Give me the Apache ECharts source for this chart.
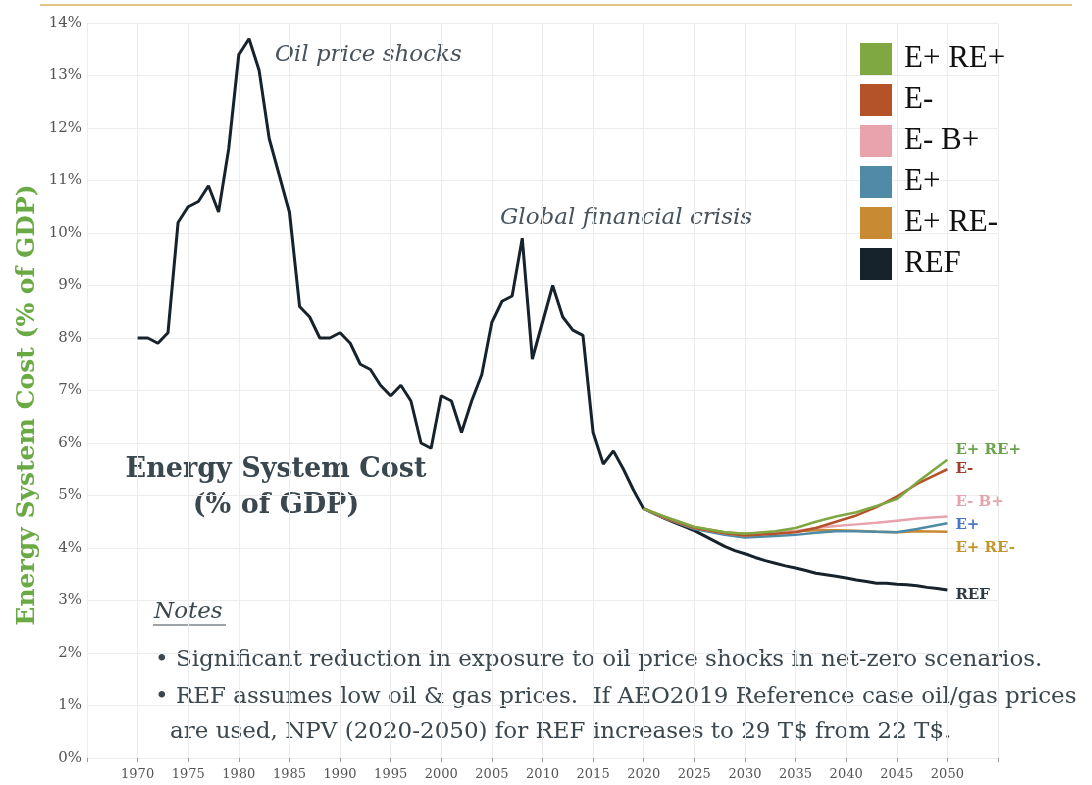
<!DOCTYPE html>
<html>
<head>
<meta charset="utf-8">
<script src="https://cdn.jsdelivr.net/npm/echarts@6/dist/echarts.min.js"></script>
<style>
html, body { margin: 0; padding: 0; background: #fff; }
#chart { width: 1092px; height: 785px; }
</style>
</head>
<body>
<div id="chart"></div>
<script>
// historical REF, one value per year from 1970 to 2019
var histStart = 1970;
var refHistory = [8.0, 8.0, 7.9, 8.1, 10.2, 10.5, 10.6, 10.9, 10.4, 11.6,
	13.4, 13.7, 13.1, 11.8, 11.1, 10.4, 8.6, 8.4, 8.0, 8.0,
	8.1, 7.9, 7.5, 7.4, 7.1, 6.9, 7.1, 6.8, 6.0, 5.9,
	6.9, 6.8, 6.2, 6.8, 7.3, 8.3, 8.7, 8.8, 9.9, 7.6,
	8.3, 9.0, 8.4, 8.15, 8.05, 6.2, 5.6, 5.85, 5.5, 5.1];
// REF projection, one value per year from 2020 to 2050
var projStart = 2020;
var refProjection = [4.75, 4.66, 4.57, 4.49, 4.41, 4.33, 4.23, 4.13, 4.03, 3.95,
	3.89, 3.82, 3.76, 3.71, 3.66, 3.62, 3.57, 3.52, 3.49, 3.46,
	3.43, 3.39, 3.36, 3.33, 3.33, 3.31, 3.30, 3.28, 3.25, 3.23, 3.20];
// scenario values read at these years
var scenYears = [2020, 2022, 2025, 2028, 2030, 2033, 2035, 2037, 2039, 2041, 2043, 2045, 2047, 2050];
var ePlusREPlus  = [4.75, 4.60, 4.40, 4.30, 4.27, 4.32, 4.38, 4.50, 4.60, 4.68, 4.80, 4.93, 5.25, 5.68];
var eMinus       = [4.75, 4.58, 4.38, 4.28, 4.24, 4.27, 4.30, 4.38, 4.50, 4.62, 4.78, 4.98, 5.22, 5.50];
var eMinusBPlus  = [4.75, 4.58, 4.38, 4.28, 4.24, 4.28, 4.32, 4.38, 4.42, 4.45, 4.48, 4.52, 4.56, 4.60];
var ePlus        = [4.75, 4.57, 4.36, 4.25, 4.20, 4.23, 4.25, 4.29, 4.32, 4.32, 4.31, 4.30, 4.36, 4.47];
var ePlusREMinus = [4.75, 4.60, 4.40, 4.30, 4.27, 4.30, 4.32, 4.34, 4.34, 4.33, 4.31, 4.30, 4.32, 4.31];

var seriesNames = ['E+ RE+', 'E-', 'E- B+', 'E+', 'E+ RE-', 'REF'];
var yTicks = [0, 1, 2, 3, 4, 5, 6, 7, 8, 9, 10, 11, 12, 13, 14];

var serif = 'DejaVu Serif';

function pairs(startYear, vals) {
	var out = [];
	for (var i = 0; i < vals.length; i++) out.push([startYear + i, vals[i]]);
	return out;
}
function zipYears(years, vals) {
	var out = [];
	for (var i = 0; i < vals.length; i++) out.push([years[i], vals[i]]);
	return out;
}

var refData = pairs(histStart, refHistory).concat(pairs(projStart, refProjection));

function scen(name, data, color, labelColor, dy) {
	return {
		name: name,
		type: 'line',
		data: data,
		showSymbol: false,
		lineStyle: {width: 2.5, color: color},
		itemStyle: {color: color},
		endLabel: {
			show: true,
			formatter: name,
			color: labelColor,
			fontFamily: serif,
			fontWeight: 'bold',
			fontSize: 15,
			offset: [0, dy]
		},
		z: 3
	};
}

var option = {
	animation: false,
	backgroundColor: '#fff',
	grid: {left: 87, right: 94, top: 23, bottom: 27, containLabel: false},
	legend: {
		data: seriesNames,
		orient: 'vertical',
		left: 860,
		top: 43,
		padding: 0,
		icon: 'rect',
		itemWidth: 32,
		itemHeight: 32,
		itemGap: 9,
		textStyle: {fontFamily: 'Liberation Serif', fontSize: 31, lineHeight: 32, color: '#111', padding: [0, 0, 0, 7]}
	},
	xAxis: {
		type: 'value',
		min: 1965,
		max: 2055,
		interval: 5,
		axisLine: {show: false},
		axisTick: {show: true, length: 4, lineStyle: {color: '#999'}},
		axisLabel: {
			fontFamily: serif, fontSize: 13, color: '#555', margin: 10,
			formatter: function (v) { return (v <= 1965 || v >= 2055) ? '' : String(v); }
		},
		splitLine: {show: true, lineStyle: {color: '#ececec', width: 1}}
	},
	yAxis: {
		type: 'value',
		min: 0,
		max: 14,
		interval: 1,
		axisLine: {show: false},
		axisTick: {show: false},
		axisLabel: {
			fontFamily: serif, fontSize: 15, color: '#555', margin: 5,
			formatter: function (v) { return yTicks.indexOf(v) >= 0 ? v + '%' : ''; }
		},
		splitLine: {show: true, lineStyle: {color: '#ececec', width: 1}}
	},
	series: [
		{
			name: 'REF',
			type: 'line',
			data: refData,
			showSymbol: false,
			lineStyle: {width: 3, color: '#17232c'},
			itemStyle: {color: '#17232c'},
			endLabel: {
				show: true, formatter: 'REF', color: '#2b3a44',
				fontFamily: serif, fontWeight: 'bold', fontSize: 15, offset: [0, 5]
			},
			z: 2
		},
		scen('E+ RE-', zipYears(scenYears, ePlusREMinus), '#c98a34', '#c4962a', 16),
		scen('E+', zipYears(scenYears, ePlus), '#4f8aa6', '#4a77c5', 2),
		scen('E- B+', zipYears(scenYears, eMinusBPlus), '#e8a3ad', '#e6a4ac', -14),
		scen('E-', zipYears(scenYears, eMinus), '#b4522a', '#a23b2b', 0),
		scen('E+ RE+', zipYears(scenYears, ePlusREPlus), '#7fa843', '#6aa34d', -10)
	],
	graphic: [
		{type: 'line', shape: {x1: 40, y1: 5, x2: 1072, y2: 5}, style: {stroke: '#d6b25e', lineWidth: 1.5}},
		{type: 'text', x: 27, y: 405, rotation: Math.PI / 2,
			style: {text: 'Energy System Cost (% of GDP)', fill: '#6aaa45', font: 'bold 25px "DejaVu Serif"',
				align: 'center', verticalAlign: 'middle'}},
		{type: 'text', x: 275, y: 55,
			style: {text: 'Oil price shocks', fill: '#46525c', font: 'italic 23px "DejaVu Serif"',
				align: 'left', verticalAlign: 'middle'}},
		{type: 'text', x: 500, y: 218,
			style: {text: 'Global financial crisis', fill: '#46525c', font: 'italic 23px "DejaVu Serif"',
				align: 'left', verticalAlign: 'middle'}},
		{type: 'text', x: 276, y: 470,
			style: {text: 'Energy System Cost', fill: '#3a474f', font: 'bold 27px "DejaVu Serif"',
				align: 'center', verticalAlign: 'middle'}},
		{type: 'text', x: 276, y: 506,
			style: {text: '(% of GDP)', fill: '#3a474f', font: 'bold 27px "DejaVu Serif"',
				align: 'center', verticalAlign: 'middle'}},
		{type: 'text', x: 154, y: 612,
			style: {text: 'Notes', fill: '#3a474f', font: 'italic 23px "DejaVu Serif"',
				align: 'left', verticalAlign: 'middle'}},
		{type: 'line', shape: {x1: 153, y1: 625, x2: 226, y2: 625}, style: {stroke: '#3a474f', lineWidth: 1}},
		{type: 'text', x: 155, y: 660,
			style: {text: '\u2022 Significant reduction in exposure to oil price shocks in net-zero scenarios.',
				fill: '#3a474f', font: '23px "DejaVu Serif"', align: 'left', verticalAlign: 'middle'}},
		{type: 'text', x: 155, y: 697,
			style: {text: '\u2022 REF assumes low oil & gas prices.  If AEO2019 Reference case oil/gas prices',
				fill: '#3a474f', font: '23px "DejaVu Serif"', align: 'left', verticalAlign: 'middle'}},
		{type: 'text', x: 170, y: 732,
			style: {text: 'are used, NPV (2020-2050) for REF increases to 29 T$ from 22 T$.',
				fill: '#3a474f', font: '23px "DejaVu Serif"', align: 'left', verticalAlign: 'middle'}}
	]
};

var myChart = echarts.init(document.getElementById('chart'));
myChart.setOption(option);
</script>
</body>
</html>
